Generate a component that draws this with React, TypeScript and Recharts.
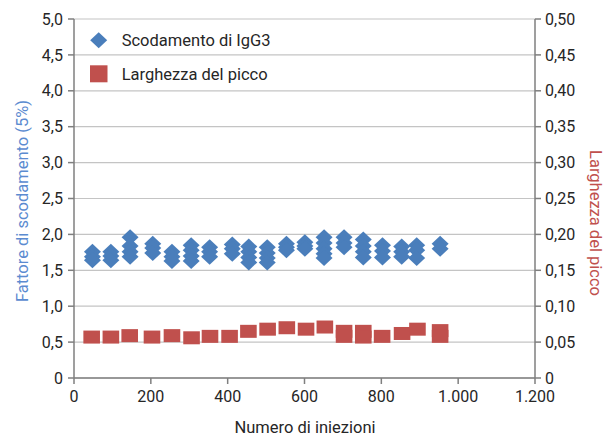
import React from 'react';
import { ScatterChart, Scatter, XAxis, YAxis, CartesianGrid, Legend } from 'recharts';

// injection counts where the IgG3 tailing factor was sampled, with the readings at each
const tailInjections = [48, 96, 146, 205, 255, 305, 353, 412, 455, 503, 553, 601, 651, 703, 753, 803, 853, 892, 953];
const tailFactors = [
  [1.76, 1.69, 1.64],
  [1.76, 1.70, 1.64],
  [1.96, 1.84, 1.76, 1.69],
  [1.87, 1.81, 1.74],
  [1.76, 1.69, 1.63],
  [1.85, 1.78, 1.70, 1.63],
  [1.82, 1.76, 1.69],
  [1.86, 1.80, 1.73],
  [1.83, 1.76, 1.68, 1.61],
  [1.82, 1.74, 1.67, 1.61],
  [1.87, 1.82, 1.78],
  [1.89, 1.84, 1.80],
  [1.96, 1.88, 1.80, 1.73, 1.67],
  [1.96, 1.88, 1.82],
  [1.93, 1.84, 1.76, 1.68],
  [1.85, 1.77, 1.68],
  [1.83, 1.76, 1.69],
  [1.85, 1.78, 1.67],
  [1.87, 1.80],
];

// peak width readings
const widthInjections = [46, 96, 145, 203, 255, 306, 354, 405, 454, 504, 554, 604, 653, 703, 703, 753, 753, 802, 854, 894, 953, 953];
const peakWidths = [0.057, 0.057, 0.059, 0.057, 0.059, 0.056, 0.058, 0.058, 0.065, 0.068, 0.070, 0.068, 0.071, 0.065, 0.058, 0.065, 0.057, 0.058, 0.062, 0.068, 0.066, 0.058];

const seriesNames = ['Scodamento di IgG3', 'Larghezza del picco'];
const xTicks = [0, 200, 400, 600, 800, 1000, 1200];
const leftTicks = [0, 0.5, 1, 1.5, 2, 2.5, 3, 3.5, 4, 4.5, 5];
const rightTicks = [0, 0.05, 0.1, 0.15, 0.2, 0.25, 0.3, 0.35, 0.4, 0.45, 0.5];

const BLUE = '#4a7ebb';
const RED = '#c0504d';
const TEXT = '#262626';
const AXIS = '#7f7f7f';

const tailData = tailInjections.flatMap((x, i) => tailFactors[i].map((y) => ({ x, y })));
const widthData = widthInjections.map((x, i) => ({ x, y: peakWidths[i] }));

const fmtX = (v: number) => (v >= 1000 ? `${Math.floor(v / 1000)}.${String(v % 1000).padStart(3, '0')}` : String(v));
const fmtLeft = (v: number) => (v === 0 ? '0' : v.toFixed(1).replace('.', ','));
const fmtRight = (v: number) => (v === 0 ? '0' : v.toFixed(2).replace('.', ','));

const Diamond = (props: any) => {
  const { cx, cy } = props;
  return <polygon points={`${cx},${cy - 8} ${cx + 8.5},${cy} ${cx},${cy + 8} ${cx - 8.5},${cy}`} fill={BLUE} />;
};

const Square = (props: any) => {
  const { cx, cy } = props;
  return <rect x={cx - 8.3} y={cy - 6.5} width={16.6} height={13} fill={RED} />;
};

const tickStyle = { fill: TEXT, fontSize: 16 };

export default function App() {
  return (
    <div style={{ position: 'absolute', left: 0, top: 0, fontFamily: 'Roboto, sans-serif' }}>
      <ScatterChart width={610} height={437} margin={{ top: 19, right: 0, bottom: 29, left: 8 }}>
        <CartesianGrid yAxisId="left" vertical={false} stroke="#c4c4c4" strokeWidth={1.2} />
        <XAxis
          type="number"
          dataKey="x"
          domain={[0, 1200]}
          ticks={xTicks}
          tickFormatter={fmtX}
          tick={tickStyle}
          tickSize={6}
          tickMargin={7}
          height={30}
          stroke={AXIS}
          strokeWidth={1.5}
          label={() => (
            <text x={305} y={433} textAnchor="middle" fill={TEXT} fontSize={16.5}>
              Numero di iniezioni
            </text>
          )}
        />
        <YAxis
          yAxisId="left"
          type="number"
          dataKey="y"
          domain={[0, 5]}
          ticks={leftTicks}
          tickFormatter={fmtLeft}
          tick={tickStyle}
          tickSize={6}
          tickMargin={5}
          width={66}
          stroke={AXIS}
          strokeWidth={1.5}
          label={() => (
            <text x={22} y={201} transform="rotate(-90 22 201)" textAnchor="middle" dominantBaseline="central" fill="#5b8bd0" fontSize={16.5}>
              Fattore di scodamento (5%)
            </text>
          )}
        />
        <YAxis
          yAxisId="right"
          orientation="right"
          type="number"
          dataKey="y"
          domain={[0, 0.5]}
          ticks={rightTicks}
          tickFormatter={fmtRight}
          tick={tickStyle}
          tickSize={6}
          tickMargin={4}
          width={75}
          stroke={AXIS}
          strokeWidth={1.5}
          label={() => (
            <text x={595} y={223} transform="rotate(90 595 223)" textAnchor="middle" dominantBaseline="central" fill={RED} fontSize={16.5}>
              Larghezza del picco
            </text>
          )}
        />
        <Legend
          layout="vertical"
          verticalAlign="middle"
          align="center"
          wrapperStyle={{ position: 'absolute', left: 88, top: 23, width: 220, height: 68 }}
          content={() => (
            <svg width={220} height={68} style={{ display: 'block' }}>
              <polygon points="10.7,9.3 19.2,17.3 10.7,25.3 2.2,17.3" fill={BLUE} />
              <text x={33.7} y={23} fill={TEXT} fontSize={16.5}>{seriesNames[0]}</text>
              <rect x={2} y={42.3} width={17.5} height={17} fill={RED} />
              <text x={33.7} y={57} fill={TEXT} fontSize={16.5}>{seriesNames[1]}</text>
            </svg>
          )}
        />
        <Scatter name={seriesNames[1]} data={widthData} yAxisId="right" fill={RED} shape={Square} isAnimationActive={false} />
        <Scatter name={seriesNames[0]} data={tailData} yAxisId="left" fill={BLUE} shape={Diamond} isAnimationActive={false} />
      </ScatterChart>
    </div>
  );
}
